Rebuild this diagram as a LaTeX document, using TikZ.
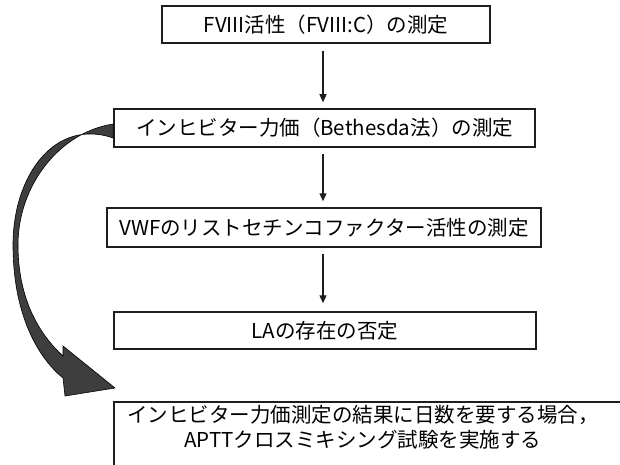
\documentclass[tikz,border=0pt]{standalone}
\usepackage{fontspec}
\setmainfont{Noto Sans CJK JP}
\usetikzlibrary{arrows.meta}
\definecolor{linec}{HTML}{1E1E1E}
\definecolor{bigarr}{HTML}{3E3E3E}
\tikzset{
  box/.style={draw=linec, line width=1.5pt, rectangle, inner sep=0pt, anchor=center,
    font=\fontsize{20.5}{25}\selectfont},
  arr/.style={draw=linec, line width=1.2pt, -{Triangle[length=8pt,width=7pt]}},
  txt/.style={inner sep=0pt, align=center, font=\fontsize{20.5}{25}\selectfont},
}
\begin{document}
\begin{tikzpicture}[x=1pt,y=-1pt]
\clip (0,0) rectangle (620,465);
\fill[white] (0,0) rectangle (620,465);
\node[box, minimum width=328pt, minimum height=37pt] (b1) at (326,24.5) {FVIII活性（FVIII:C）の測定};
\node[box, minimum width=421pt, minimum height=38pt] (b2) at (324.5,128) {インヒビター力価（Bethesda法）の測定};
\node[box, minimum width=434pt, minimum height=39pt] (b3) at (324,227.5) {VWFのリストセチンコファクター活性の測定};
\node[box, minimum width=422pt, minimum height=37pt] (b4) at (325,330.5) {LAの存在の否定};
\node[box, minimum width=526pt, minimum height=80pt] (b5) at (377,442) {};
\node[txt] (t5) at (363,427.5) {インヒビター力価測定の結果に日数を要する場合，\\APTTクロスミキシング試験を実施する};
\draw[arr, shorten <=7pt, shorten >=6pt] (323,0 |- b1.south) -- (323,0 |- b2.north);
\draw[arr, shorten <=6pt, shorten >=6pt] (323,0 |- b2.south) -- (323,0 |- b3.north);
\draw[arr, shorten <=6pt, shorten >=8pt] (323,0 |- b3.south) -- (323,0 |- b4.north);
% big curved arrow from box 2 to result box
\coordinate (cs) at (b2.west);
\coordinate (tip) at (115,388);
\filldraw[fill=bigarr, draw=black, line width=0.6pt, line join=miter]
  ([yshift=-10pt]cs) .. controls (55,118) and (13,175) .. (13,245)
  .. controls (13,310) and (35,355) .. (63,378)
  -- (65,396) -- (tip) -- (63,346) -- (63,356)
  .. controls (40,335) and (18,300) .. (18,245)
  .. controls (18,185) and (60,132) .. ([yshift=4pt]cs) -- cycle;
\end{tikzpicture}
\end{document}
